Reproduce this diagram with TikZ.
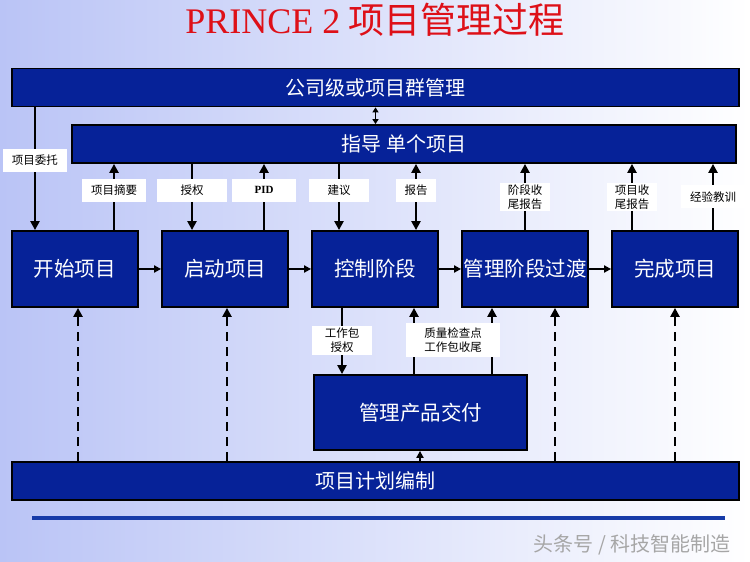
\documentclass[tikz,border=0pt]{standalone}
\usepackage{fontspec}
\setmainfont{Noto Sans CJK SC}
\newfontfamily\latinserif{Liberation Serif}
\usetikzlibrary{arrows.meta}
\definecolor{boxblue}{RGB}{6,34,152}
\definecolor{titlered}{RGB}{222,16,24}
\definecolor{rulecolor}{RGB}{22,58,168}
\definecolor{bgblue}{RGB}{186,196,246}

\begin{document}
\begin{tikzpicture}[x=1pt, y=1pt,
        >={Triangle[width=9pt,length=9pt]},
        procbox/.style={draw=black, line width=1.8pt, fill=boxblue, text=white, minimum width=126pt, minimum height=76pt, inner sep=0pt, font=\fontsize{20.5}{24}\selectfont},
        bar/.style={draw=black, line width=1.8pt, fill=boxblue, text=white, minimum height=38pt, inner sep=0pt, font=\fontsize{20}{24}\selectfont},
        flow/.style={->, line width=2.4pt},
        hflow/.style={->, line width=2pt, >={Triangle[width=7pt,length=7pt]}},
        dashflow/.style={->, line width=2.6pt, dash pattern=on 9pt off 6pt},
        lbl/.style={fill=white, inner sep=2pt, minimum width=64pt, minimum height=23pt, align=center, font=\fontsize{11.5}{14}\selectfont}]

    % background and title
    \shade[left color=bgblue, right color=white] (0,0) rectangle (750,562);
    \node[text=titlered, font=\fontsize{36}{42}\selectfont] (title) at (375,542) {{\latinserif PRINCE 2} 项目管理过程};

    % management levels
    \node[bar, minimum width=727pt] (corp) at (375.5,474.5) {公司级或项目群管理};
    \node[bar, minimum width=664pt] (direct) at (404,418) {指导\ 单个项目};

    % processes
    \node[procbox] (start) at (75,293) {开始项目};
    \node[procbox] (initiate) at (225,293) {启动项目};
    \node[procbox] (control) at (375,293) {控制阶段};
    \node[procbox] (boundary) at (525,293) {管理阶段过渡};
    \node[procbox] (close) at (675,293) {完成项目};
    \node[procbox, minimum width=213pt, minimum height=75pt] (deliver) at (420.5,149.5) {管理产品交付};
    \node[bar, minimum width=727pt] (planning) at (375.5,81) {项目计划编制};

    % x positions of the vertical connectors
    \foreach \n/\x in {xmandate/35, xbrief/114, xauth/192, xpid/264, xadvice/339, xreport/416,
                       xstage/525, xend/632, xlessons/713, xwork/342, xcheck/414, xdone/492,
                       xhandover/420, xp1/78, xp2/227, xp3/555, xp4/675}
        \coordinate (\n) at (\x,0);

    \draw[<->, line width=1.5pt, >={Triangle[width=6pt,length=5pt]}] (corp.south) -- (corp.south |- direct.north);

    \draw[flow] (corp.south -| xmandate) -- node[lbl, pos=0.43] {项目委托} (start.north -| xmandate);
    \draw[flow] (start.north -| xbrief) -- node[lbl, pos=0.6] {项目摘要} (direct.south -| xbrief);
    \draw[flow] (direct.south -| xauth) -- node[lbl, pos=0.4, minimum width=70pt] {授权} (initiate.north -| xauth);
    \draw[flow] (initiate.north -| xpid) -- node[lbl, pos=0.6, font=\latinserif\bfseries\fontsize{11}{13}\selectfont] {PID} (direct.south -| xpid);
    \draw[flow] (direct.south -| xadvice) -- node[lbl, pos=0.4, minimum width=60pt] {建议} (control.north -| xadvice);
    \draw[flow, <->] (direct.south -| xreport) -- node[lbl, pos=0.4, minimum width=40pt] {报告} (control.north -| xreport);
    \draw[flow] (boundary.north -| xstage) -- node[lbl, pos=0.5, minimum width=50pt] {阶段收\\尾报告} (direct.south -| xstage);
    \draw[flow] (close.north -| xend) -- node[lbl, pos=0.5, minimum width=50pt] {项目收\\尾报告} (direct.south -| xend);
    \draw[flow] (close.north -| xlessons) -- node[lbl, pos=0.5] {经验教训} (direct.south -| xlessons);

    \draw[hflow] (start) -- (initiate);
    \draw[hflow] (initiate) -- (control);
    \draw[hflow] (control) -- (boundary);
    \draw[hflow] (boundary) -- (close);

    \draw[flow] (control.south -| xwork) -- node[lbl, pos=0.49, minimum width=60pt] {工作包\\授权} (deliver.north -| xwork);
    \draw[flow] (deliver.north -| xcheck) -- (control.south -| xcheck);
    \draw[flow] (deliver.north -| xdone) -- (boundary.south -| xdone);
    \node[lbl, minimum width=94pt, minimum height=34pt] (checks) at (453,222) {质量检查点\\工作包收尾};
    \draw[flow, line width=2pt, >={Triangle[width=7pt,length=7pt]}] (planning.north -| xhandover) -- (deliver.south -| xhandover);

    \draw[dashflow] (planning.north -| xp1) -- (start.south -| xp1);
    \draw[dashflow] (planning.north -| xp2) -- (initiate.south -| xp2);
    \draw[dashflow] (planning.north -| xp3) -- (boundary.south -| xp3);
    \draw[dashflow] (planning.north -| xp4) -- (close.south -| xp4);

    % footer
    \draw[rulecolor, line width=4pt] (32,44) -- (725,44);
    \node[text=gray!70, font=\fontsize{20}{24}\selectfont] (mark) at (632,17) {头条号 / 科技智能制造};
\end{tikzpicture}
\end{document}
